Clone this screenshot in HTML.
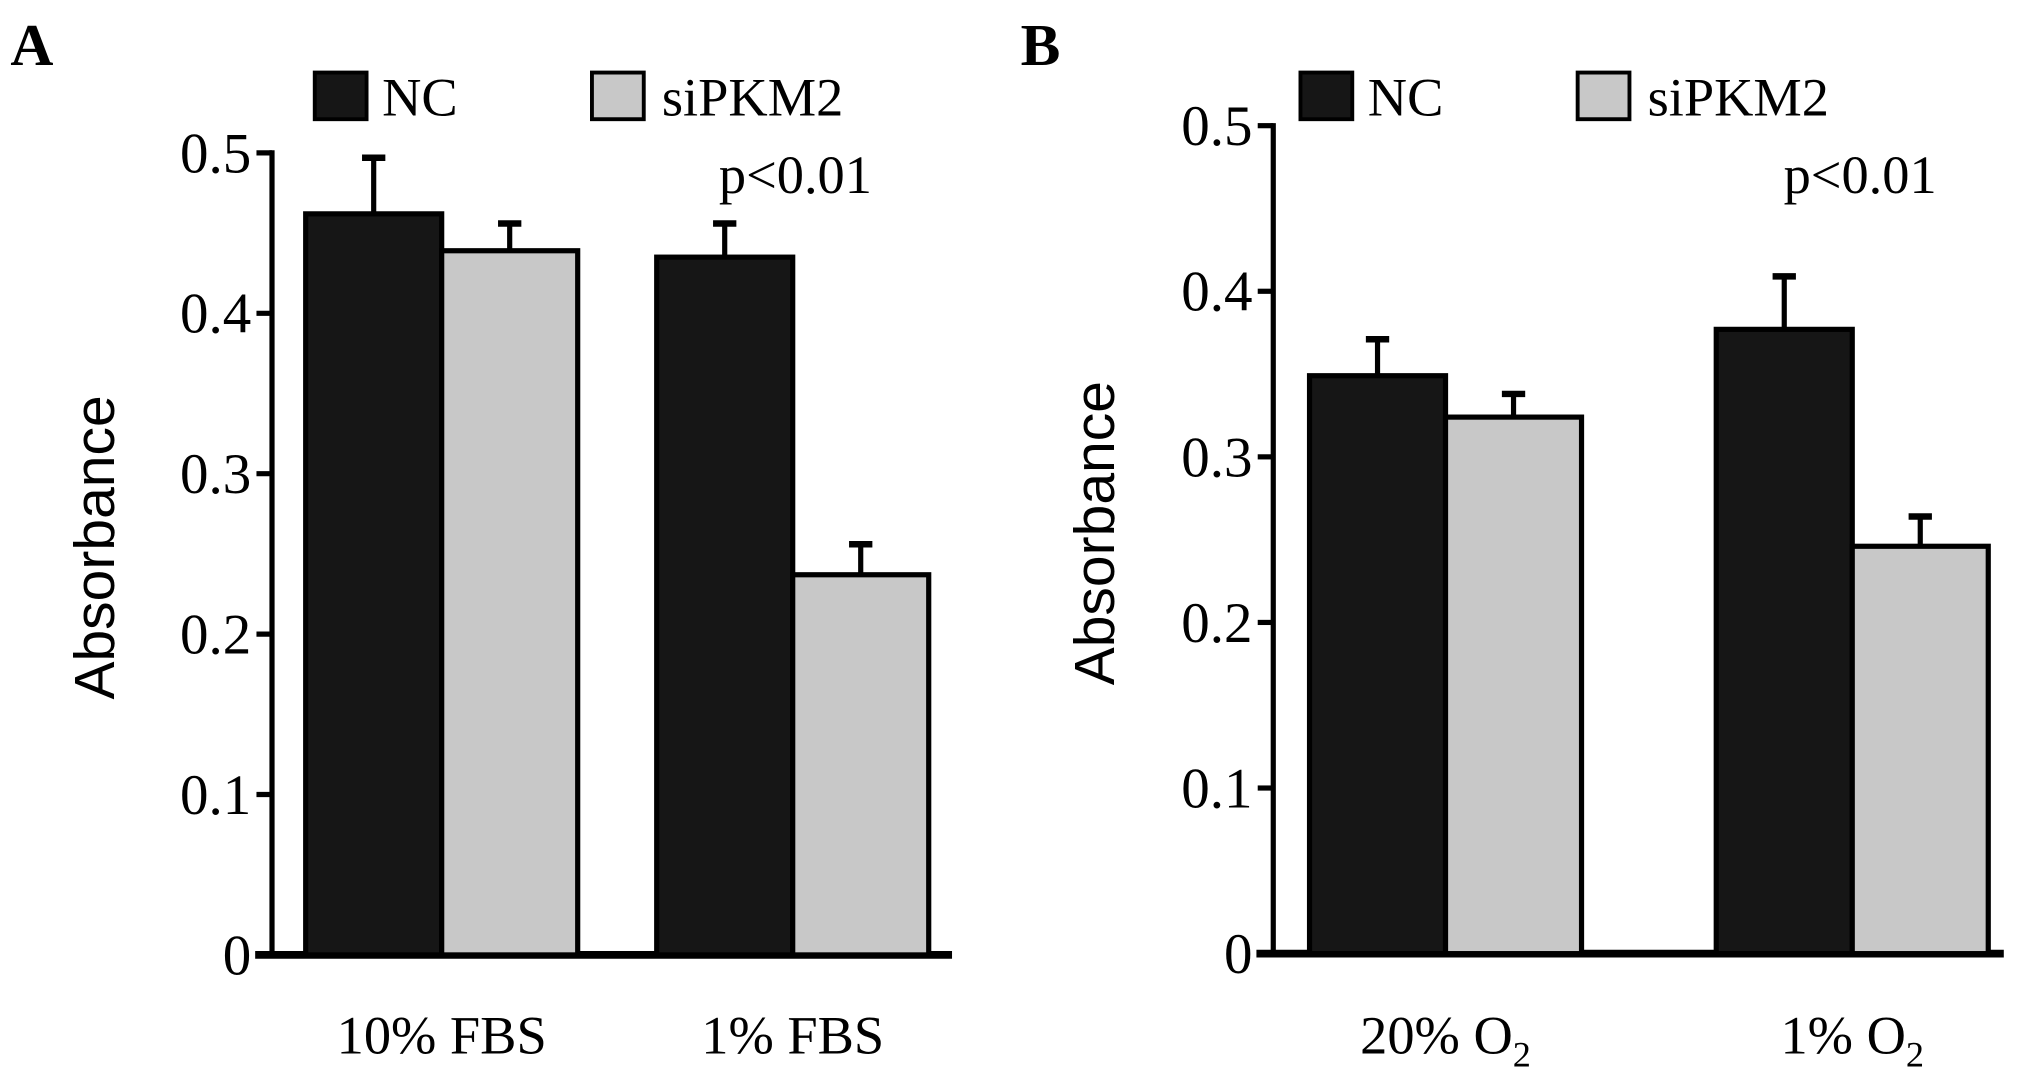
<!DOCTYPE html>
<html><head><meta charset="utf-8"><style>
html,body{margin:0;padding:0;background:#fff;}
svg{display:block;}
.serif{font-family:"Liberation Serif",serif;}
.sans{font-family:"Liberation Sans",sans-serif;}
</style></head><body>
<svg id="chart" width="2031" height="1078" viewBox="0 0 1568 832" preserveAspectRatio="none" xmlns="http://www.w3.org/2000/svg">
<rect width="1568" height="832" fill="#fff"/>
<text x="8" y="50" class="serif" font-size="46" font-weight="bold">A</text>
<text x="788" y="50" class="serif" font-size="46" font-weight="bold">B</text>
<g id="pa"></g>
<g id="pb"></g>
</svg>
<script>
const categoriesA = ["10% FBS", "1% FBS"];
const ncA = [0.462, 0.435];
const ncErrA = [0.035, 0.021];
const siA = [0.439, 0.237];
const siErrA = [0.017, 0.019];

const categoriesB = ["20% O2", "1% O2"];
const ncB = [0.349, 0.377];
const ncErrB = [0.022, 0.032];
const siB = [0.324, 0.246];
const siErrB = [0.014, 0.018];

const yTicks = [0, 0.1, 0.2, 0.3, 0.4, 0.5];
const yTickLabels = ["0", "0.1", "0.2", "0.3", "0.4", "0.5"];

const NS = "http://www.w3.org/2000/svg";
function mk(parent, tag, attrs, text) {
  const e = document.createElementNS(NS, tag);
  for (const k in attrs) e.setAttribute(k, attrs[k]);
  if (text !== undefined) e.textContent = text;
  parent.appendChild(e);
  return e;
}

function drawPanel(g, cfg, cats, nc, ncErr, si, siErr) {
  const y = v => cfg.y0 - v / 0.5 * (cfg.y0 - cfg.y5);
  let e = mk(g, "line", {x1: cfg.ax, x2: cfg.ax, y1: y(0.5) - 2, y2: y(0), stroke: "#000", "stroke-width": 4});
  
  
  e = mk(g, "line", {x1: cfg.bx0, x2: cfg.bx1, y1: y(0), y2: y(0), stroke: "#000", "stroke-width": 6});
  
  
  yTicks.forEach((t, i) => {
    const tk = mk(g, "line", {x1: cfg.ax - 12, x2: cfg.ax, y1: y(t), y2: y(t), stroke: "#000", "stroke-width": 4});
    
    
    const tl = mk(g, "text", {x: cfg.ax - 16, y: y(t) + 15, "text-anchor": "end", "font-size": 44, class: "serif"}, yTickLabels[i]);
    
    
  });
  const yt = mk(g, "text", {x: 0, y: 0, "text-anchor": "middle", "font-size": 44, class: "sans", transform: `translate(${cfg.titleX},${(y(0)+y(0.5))/2 - 5}) rotate(-90)`}, "Absorbance");
  
  
  cats.forEach((c, i) => {
    const gx = cfg.groupX[i];
    const bars = [[nc[i], ncErr[i], "#161616", gx, "bar-nc"], [si[i], siErr[i], "#c8c8c8", gx + cfg.bw, "bar-sipkm2"]];
    bars.forEach(([v, er, col, x, nm]) => {
      const eb = mk(g, "line", {x1: x + cfg.bw/2, x2: x + cfg.bw/2, y1: y(v), y2: y(v + er), stroke: "#000", "stroke-width": 4});
      
      
      const cap = mk(g, "line", {x1: x + cfg.bw/2 - 9, x2: x + cfg.bw/2 + 9, y1: y(v + er), y2: y(v + er), stroke: "#000", "stroke-width": 5});
      
      
      const r = mk(g, "rect", {x: x, y: y(v), width: cfg.bw, height: y(0) - y(v), fill: col, stroke: "#000", "stroke-width": 4});
      
      
    });
    const lbl = mk(g, "text", {x: gx + cfg.bw, y: 813, "text-anchor": "middle", "font-size": 42, class: "serif"});
    
    
    const m = c.match(/^(.*)O2$/);
    if (m) {
      lbl.appendChild(document.createTextNode(m[1] + "O"));
      mk(lbl, "tspan", {"font-size": 28, dy: 10}, "2");
    } else lbl.textContent = c;
  });
  let s1 = mk(g, "rect", {x: cfg.lx, y: 56, width: 40, height: 36, fill: "#161616", stroke: "#000", "stroke-width": 3});
  
  
  let t1 = mk(g, "text", {x: cfg.lx + 52, y: 89, "font-size": 42, class: "serif"}, "NC");
  
  
  let s2 = mk(g, "rect", {x: cfg.lx + 214, y: 56, width: 40, height: 36, fill: "#c8c8c8", stroke: "#000", "stroke-width": 3});
  
  
  let t2 = mk(g, "text", {x: cfg.lx + 268, y: 89, "font-size": 42, class: "serif"}, "siPKM2");
  
  
  let p = mk(g, "text", {x: cfg.px, y: 149, "font-size": 42, class: "serif"}, "p<0.01");
  
  
}

drawPanel(document.getElementById("pa"),
  {y0: 737, y5: 118, ax: 210, bx0: 197, bx1: 735, bw: 105, groupX: [236, 507], titleX: 88, lx: 243, px: 555},
  categoriesA, ncA, ncErrA, siA, siErrA);
drawPanel(document.getElementById("pb"),
  {y0: 736, y5: 97, ax: 983, bx0: 970, bx1: 1547, bw: 105, groupX: [1011, 1325], titleX: 860, lx: 1004, px: 1377},
  categoriesB, ncB, ncErrB, siB, siErrB);
</script>
</body></html>
